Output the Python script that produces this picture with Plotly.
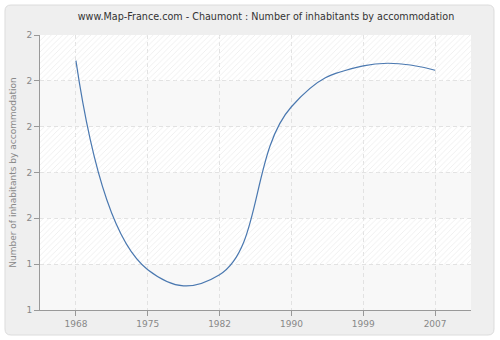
import plotly.graph_objects as go

# ---- data ----
YEARS = ["1968", "1975", "1982", "1990", "1999", "2007"]
VALUES = [2.288, 1.376, 1.354, 2.087, 2.265, 2.246]
Y_TICKS = [1.2, 1.4, 1.6, 1.8, 2.0, 2.2, 2.4]
Y_TICK_LABELS = ["1", "1", "2", "2", "2", "2", "2"]
TITLE = "www.Map-France.com - Chaumont : Number of inhabitants by accommodation"
Y_TITLE = "Number of inhabitants by accommodation"

# ---- layout helpers (styling) ----
W, H = 500, 340
ML, MR, MT, MB = 40, 29, 35, 30
PW, PH = W - ML - MR, H - MT - MB


def px(xp):
    return (xp - ML) / PW


def py(yp):
    return (H - MB - yp) / PH


def rounded_rect(x0, y0, x1, y1, r):
    # pixel coordinates -> paper path
    def p(a, b):
        return f"{px(a):.5f},{py(b):.5f}"
    return (f"M {p(x0 + r, y0)} L {p(x1 - r, y0)} Q {p(x1, y0)} {p(x1, y0 + r)} "
            f"L {p(x1, y1 - r)} Q {p(x1, y1)} {p(x1 - r, y1)} "
            f"L {p(x0 + r, y1)} Q {p(x0, y1)} {p(x0, y1 - r)} "
            f"L {p(x0, y0 + r)} Q {p(x0, y0)} {p(x0 + r, y0)} Z")


xpos = list(range(len(YEARS)))

fig = go.Figure()

# hatched bands
hatch_base = [Y_TICKS[i] for i in range(1, len(Y_TICKS) - 1, 2)]
hatch_h = [Y_TICKS[i + 1] - Y_TICKS[i] for i in range(1, len(Y_TICKS) - 1, 2)]
fig.add_trace(go.Bar(
    x=[(len(YEARS) - 1) / 2] * len(hatch_base), y=hatch_h, base=hatch_base,
    width=len(YEARS),
    marker=dict(color="rgba(0,0,0,0)", line=dict(width=0),
                pattern=dict(shape="/", fgcolor="#ececec", bgcolor="rgba(0,0,0,0)",
                             size=4, solidity=0.2, fillmode="replace")),
    hoverinfo="skip", showlegend=False,
))

fig.add_trace(go.Scatter(
    x=xpos, y=VALUES, mode="lines",
    line=dict(color="#4a78b0", width=1.2, shape="spline", smoothing=1.3),
    showlegend=False,
))

shapes = [
    dict(type="path", xref="paper", yref="paper", path=rounded_rect(5, 5, 494, 335, 6),
         fillcolor="#efefef", line=dict(color="#dcdcdc", width=1), layer="below"),
    dict(type="rect", xref="paper", yref="paper", x0=0, x1=1, y0=0, y1=1,
         fillcolor="#ffffff", line=dict(width=0), layer="below"),
]
for i in range(0, len(Y_TICKS) - 1, 2):
    shapes.append(dict(type="rect", xref="paper", yref="y", x0=0, x1=1,
                       y0=Y_TICKS[i], y1=Y_TICKS[i + 1],
                       fillcolor="#f8f8f8", line=dict(width=0), layer="below"))

fig.update_layout(
    width=W, height=H,
    margin=dict(l=ML, r=MR, t=MT, b=MB),
    paper_bgcolor="#ffffff", plot_bgcolor="rgba(0,0,0,0)",
    font=dict(family="DejaVu Sans", size=9, color="#888888"),
    title=dict(text=TITLE, x=266 / W, xref="container", xanchor="center",
               y=1 - 17 / H, yanchor="middle",
               font=dict(family="DejaVu Sans", size=9.6, color="#333333")),
    shapes=shapes,
    bargap=0,
    xaxis=dict(range=[-0.5, len(YEARS) - 0.5], tickvals=xpos, ticktext=YEARS,
               showgrid=True, gridcolor="#e2e2e2", griddash="4px,3px", gridwidth=1,
               showline=True, linecolor="#999999", linewidth=1,
               ticks="outside", ticklen=5, tickcolor="#999999",
               tickfont=dict(size=9, color="#888888"), zeroline=False, fixedrange=True),
    yaxis=dict(range=[Y_TICKS[0], Y_TICKS[-1]], tickvals=Y_TICKS, ticktext=Y_TICK_LABELS,
               showgrid=True, gridcolor="#e2e2e2", griddash="4px,3px", gridwidth=1,
               showline=True, linecolor="#999999", linewidth=1,
               ticks="outside", ticklen=5, tickcolor="#999999",
               tickfont=dict(size=9, color="#888888"), zeroline=False,
               title=dict(text=Y_TITLE, font=dict(size=9, color="#888888"), standoff=8),
               fixedrange=True),
)

fig.write_html("out.html")
